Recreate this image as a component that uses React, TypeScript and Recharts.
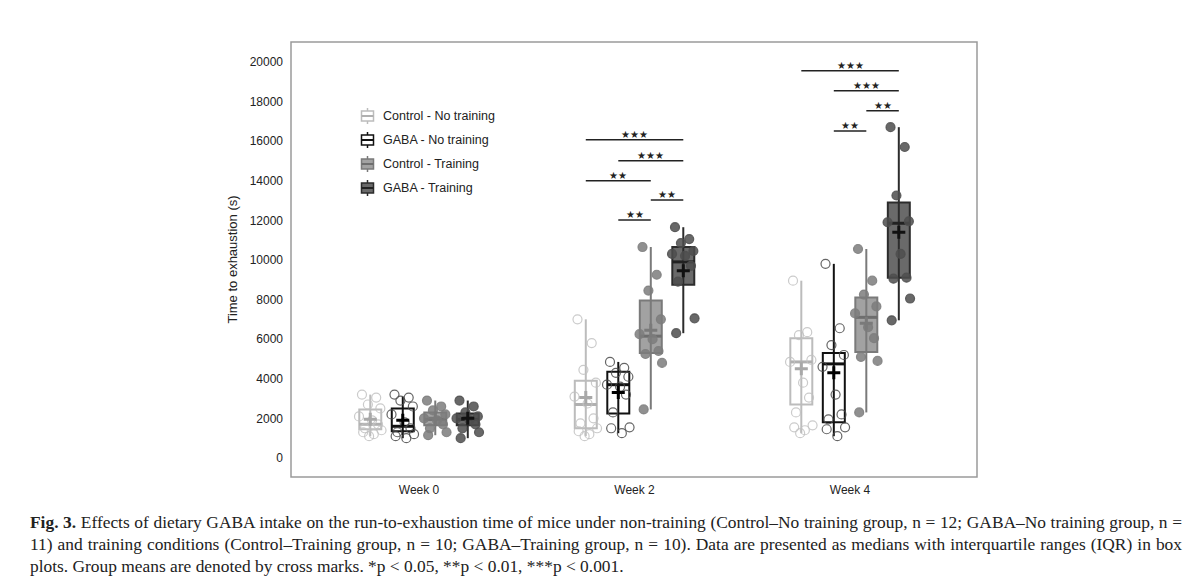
import React from "react";
import {
  ComposedChart,
  XAxis,
  YAxis,
  Scatter,
  ReferenceArea,
  ReferenceLine,
  Label,
} from "recharts";

const weeks = ["Week 0", "Week 2", "Week 4"];
const groups = ["Control - No training", "GABA - No training", "Control - Training", "GABA - Training"];

// box stats per week: [lower whisker, Q1, median, Q3, upper whisker]
const ctrlNoTrainBox = [
  [1100, 1450, 1700, 2450, 3200],
  [1100, 1500, 2700, 3900, 7000],
  [1250, 2700, 4850, 6050, 8950],
];
const gabaNoTrainBox = [
  [1000, 1350, 1600, 2500, 3100],
  [1250, 2250, 3700, 4350, 4850],
  [1100, 1800, 4750, 5300, 9800],
];
const ctrlTrainBox = [
  [1150, 1650, 1950, 2300, 2900],
  [2450, 5300, 6150, 7950, 10650],
  [2300, 5350, 7100, 8100, 10550],
];
const gabaTrainBox = [
  [1000, 1650, 1950, 2250, 2900],
  [6300, 8750, 9900, 10650, 11650],
  [6950, 9100, 11850, 12900, 16700],
];

const ctrlNoTrainMean = [1950, 3050, 4500];
const gabaNoTrainMean = [1900, 3300, 4300];
const ctrlTrainMean = [2000, 6450, 6800];
const gabaTrainMean = [2000, 9450, 11400];

// individual mice
const ctrlNoTrainPts = [
  [3200, 3050, 2700, 2500, 2100, 1900, 1700, 1500, 1400, 1300, 1200, 1100],
  [7000, 5800, 4450, 3800, 3100, 2750, 2000, 1750, 1500, 1350, 1200, 1100],
  [8950, 6350, 6200, 4950, 4850, 3800, 3050, 2300, 1650, 1550, 1400, 1250],
];
const gabaNoTrainPts = [
  [3200, 3050, 2900, 2600, 2200, 1800, 1500, 1300, 1200, 1100, 1000],
  [4850, 4550, 4300, 4100, 3700, 3600, 3200, 2300, 1550, 1500, 1250],
  [9800, 6550, 5700, 5200, 4600, 3200, 2200, 1950, 1550, 1450, 1100],
];
const ctrlTrainPts = [
  [2900, 2600, 2400, 2200, 2000, 1900, 1700, 1500, 1300, 1150],
  [10650, 9250, 8450, 7000, 6250, 6000, 5400, 5250, 4800, 2450],
  [10550, 8950, 8250, 7650, 7300, 6600, 6050, 5100, 4900, 2300],
];
const gabaTrainPts = [
  [2900, 2600, 2300, 2100, 2000, 1900, 1700, 1500, 1300, 1000],
  [11650, 11050, 10850, 10450, 10300, 10200, 9700, 8900, 7050, 6300],
  [16700, 15700, 13250, 11950, 11900, 10300, 9100, 9050, 8050, 6950],
];

// significance brackets: [week index, from group, to group, height, stars]
const sigBrackets: [number, number, number, number, string][] = [
  [1, 0, 3, 16060, "***"],
  [1, 1, 3, 15000, "***"],
  [1, 0, 2, 13990, "**"],
  [1, 2, 3, 13030, "**"],
  [1, 1, 2, 12020, "**"],
  [2, 0, 3, 19550, "***"],
  [2, 1, 3, 18540, "***"],
  [2, 2, 3, 17530, "**"],
  [2, 1, 2, 16510, "**"],
];

const yTicks = [0, 2000, 4000, 6000, 8000, 10000, 12000, 14000, 16000, 18000, 20000];

const boxes = [ctrlNoTrainBox, gabaNoTrainBox, ctrlTrainBox, gabaTrainBox];
const means = [ctrlNoTrainMean, gabaNoTrainMean, ctrlTrainMean, gabaTrainMean];
const points = [ctrlNoTrainPts, gabaNoTrainPts, ctrlTrainPts, gabaTrainPts];

const styles = [
  { stroke: "#bcbcbc", fill: "#ffffff", median: "#b0b0b0", cross: "#a8a8a8", dot: "#c2c2c2", dotFill: "none" },
  { stroke: "#111111", fill: "#ffffff", median: "#111111", cross: "#000000", dot: "#4a4a4a", dotFill: "none" },
  { stroke: "#7a7a7a", fill: "#a2a2a2", median: "#6e6e6e", cross: "#7a7a7a", dot: "#7c7c7c", dotFill: "#7c7c7c" },
  { stroke: "#2c2c2c", fill: "#6a6a6a", median: "#222222", cross: "#111111", dot: "#4e4e4e", dotFill: "#4e4e4e" },
];

const X_DOMAIN: [number, number] = [-0.594, 2.589];
const Y_DOMAIN: [number, number] = [-960, 21000];
const STEP = 0.1508;
const HALF = 0.051;
const jitter = [-0.7, 0.5, -0.2, 0.85, -0.95, 0.15, 0.65, -0.45, 0.95, -0.6, 0.3, -0.1];
const off = (g: number) => (g - 1.5) * STEP;

const FONT = "'Liberation Sans', Arial, sans-serif";

function LegendIcon({ g }: { g: number }) {
  const s = styles[g];
  return (
    <svg width={15} height={16} style={{ display: "block" }}>
      <line x1={7.5} y1={0} x2={7.5} y2={16} stroke={s.stroke} strokeWidth={1.5} />
      <rect x={1.5} y={3} width={12} height={10} fill={s.fill} stroke={s.stroke} strokeWidth={1.5} />
      <line x1={1.5} y1={8} x2={13.5} y2={8} stroke={s.median} strokeWidth={2} />
    </svg>
  );
}

export default function App() {
  const pointData = points.map((p, g) =>
    p.flatMap((vals, wi) =>
      vals.map((v, k) => ({ x: wi + off(g) + jitter[k % jitter.length] * 0.055, y: v }))
    )
  );
  const meanData = means.map((m, g) => m.map((v, wi) => ({ x: wi + off(g), y: v })));

  return (
    <div style={{ position: "absolute", left: 0, top: 0, width: 1200, height: 577, background: "#fff", fontFamily: FONT }}>
      <ComposedChart width={1200} height={520} margin={{ top: 42, right: 223, bottom: 13, left: 231 }}>
        <XAxis
          dataKey="x"
          type="number"
          domain={X_DOMAIN}
          allowDataOverflow
          ticks={[0, 1, 2]}
          tickFormatter={(i: number) => weeks[i] ?? ""}
          axisLine={false}
          tickLine={false}
          height={30}
          tick={{ fill: "#222", fontSize: 12, fontFamily: FONT }}
        />
        <YAxis
          dataKey="y"
          type="number"
          domain={Y_DOMAIN}
          allowDataOverflow
          ticks={yTicks}
          axisLine={false}
          tickLine={false}
          width={60}
          tick={{ fill: "#222", fontSize: 12, fontFamily: FONT }}
        >
          <Label
            content={(props: any) => {
              const vb = props.viewBox || { x: 231, y: 42, height: 435 };
              const cx = vb.x + 1;
              const cy = vb.y + vb.height / 2;
              return (
                <text
                  x={cx}
                  y={cy}
                  transform={`rotate(-90, ${cx}, ${cy})`}
                  textAnchor="middle"
                  dominantBaseline="central"
                  fontSize={13}
                  fill="#222"
                  fontFamily={FONT}
                >
                  Time to exhaustion (s)
                </text>
              );
            }}
          />
        </YAxis>

        <ReferenceArea
          x1={X_DOMAIN[0]}
          x2={X_DOMAIN[1]}
          y1={Y_DOMAIN[0]}
          y2={Y_DOMAIN[1]}
          fill="none"
          fillOpacity={0}
          stroke="#9a9a9a"
          strokeWidth={1.5}
        />

        {boxes.flatMap((b, g) =>
          b.map((st, wi) => (
            <ReferenceLine
              key={`w${g}-${wi}`}
              segment={[
                { x: wi + off(g), y: st[0] },
                { x: wi + off(g), y: st[4] },
              ]}
              stroke={styles[g].stroke}
              strokeWidth={2}
            />
          ))
        )}
        {boxes.flatMap((b, g) =>
          b.map((st, wi) => (
            <ReferenceArea
              key={`b${g}-${wi}`}
              x1={wi + off(g) - HALF}
              x2={wi + off(g) + HALF}
              y1={st[1]}
              y2={st[3]}
              fill={styles[g].fill}
              fillOpacity={1}
              stroke={styles[g].stroke}
              strokeWidth={2}
            />
          ))
        )}
        {boxes.flatMap((b, g) =>
          b.map((st, wi) => (
            <ReferenceLine
              key={`m${g}-${wi}`}
              segment={[
                { x: wi + off(g) - HALF, y: st[2] },
                { x: wi + off(g) + HALF, y: st[2] },
              ]}
              stroke={styles[g].median}
              strokeWidth={3}
            />
          ))
        )}

        {pointData.map((d, g) => (
          <Scatter
            key={`p${g}`}
            name={groups[g]}
            data={d}
            isAnimationActive={false}
            shape={(p: any) => (
              <circle
                cx={p.cx}
                cy={p.cy}
                r={4.5}
                fill={styles[g].dotFill}
                fillOpacity={0.85}
                stroke={styles[g].dot}
                strokeWidth={1.2}
                strokeOpacity={0.85}
              />
            )}
          />
        ))}

        {meanData.map((d, g) => (
          <Scatter
            key={`mean${g}`}
            data={d}
            isAnimationActive={false}
            shape={(p: any) => (
              <path
                d={`M${p.cx - 6.5},${p.cy}H${p.cx + 6.5}M${p.cx},${p.cy - 6.5}V${p.cy + 6.5}`}
                stroke={styles[g].cross}
                strokeWidth={3}
              />
            )}
          />
        ))}

        {sigBrackets.map(([wi, a, b, h, stars], i) => (
          <ReferenceLine
            key={`s${i}`}
            segment={[
              { x: wi + off(a), y: h },
              { x: wi + off(b), y: h },
            ]}
            stroke="#222"
            strokeWidth={1.5}
          >
            <Label value={stars.replace(/\*/g, "★")} position="top" offset={2} fontSize={10} fill="#222" />
          </ReferenceLine>
        ))}
      </ComposedChart>

      <div style={{ position: "absolute", left: 360, top: 104, fontSize: 12.5, color: "#222", fontFamily: FONT }}>
        {groups.map((name, g) => (
          <div key={name} style={{ display: "flex", alignItems: "center", height: 24 }}>
            <LegendIcon g={g} />
            <span style={{ marginLeft: 8 }}>{name}</span>
          </div>
        ))}
      </div>

      <div
        style={{
          position: "absolute",
          left: 30,
          top: 511,
          width: 1152,
          fontFamily: "'Liberation Serif', 'Times New Roman', serif",
          fontSize: 17.4,
          lineHeight: "22px",
          color: "#222",
        }}
      >
        <div style={{ textAlign: "justify", textAlignLast: "justify" }}>
          <b>Fig. 3.</b> Effects of dietary GABA intake on the run-to-exhaustion time of mice under non-training (Control–No training group, n = 12; GABA–No training group, n =
        </div>
        <div style={{ textAlign: "justify", textAlignLast: "justify" }}>
          11) and training conditions (Control–Training group, n = 10; GABA–Training group, n = 10). Data are presented as medians with interquartile ranges (IQR) in box
        </div>
        <div>plots. Group means are denoted by cross marks. *p &lt; 0.05, **p &lt; 0.01, ***p &lt; 0.001.</div>
      </div>
    </div>
  );
}
